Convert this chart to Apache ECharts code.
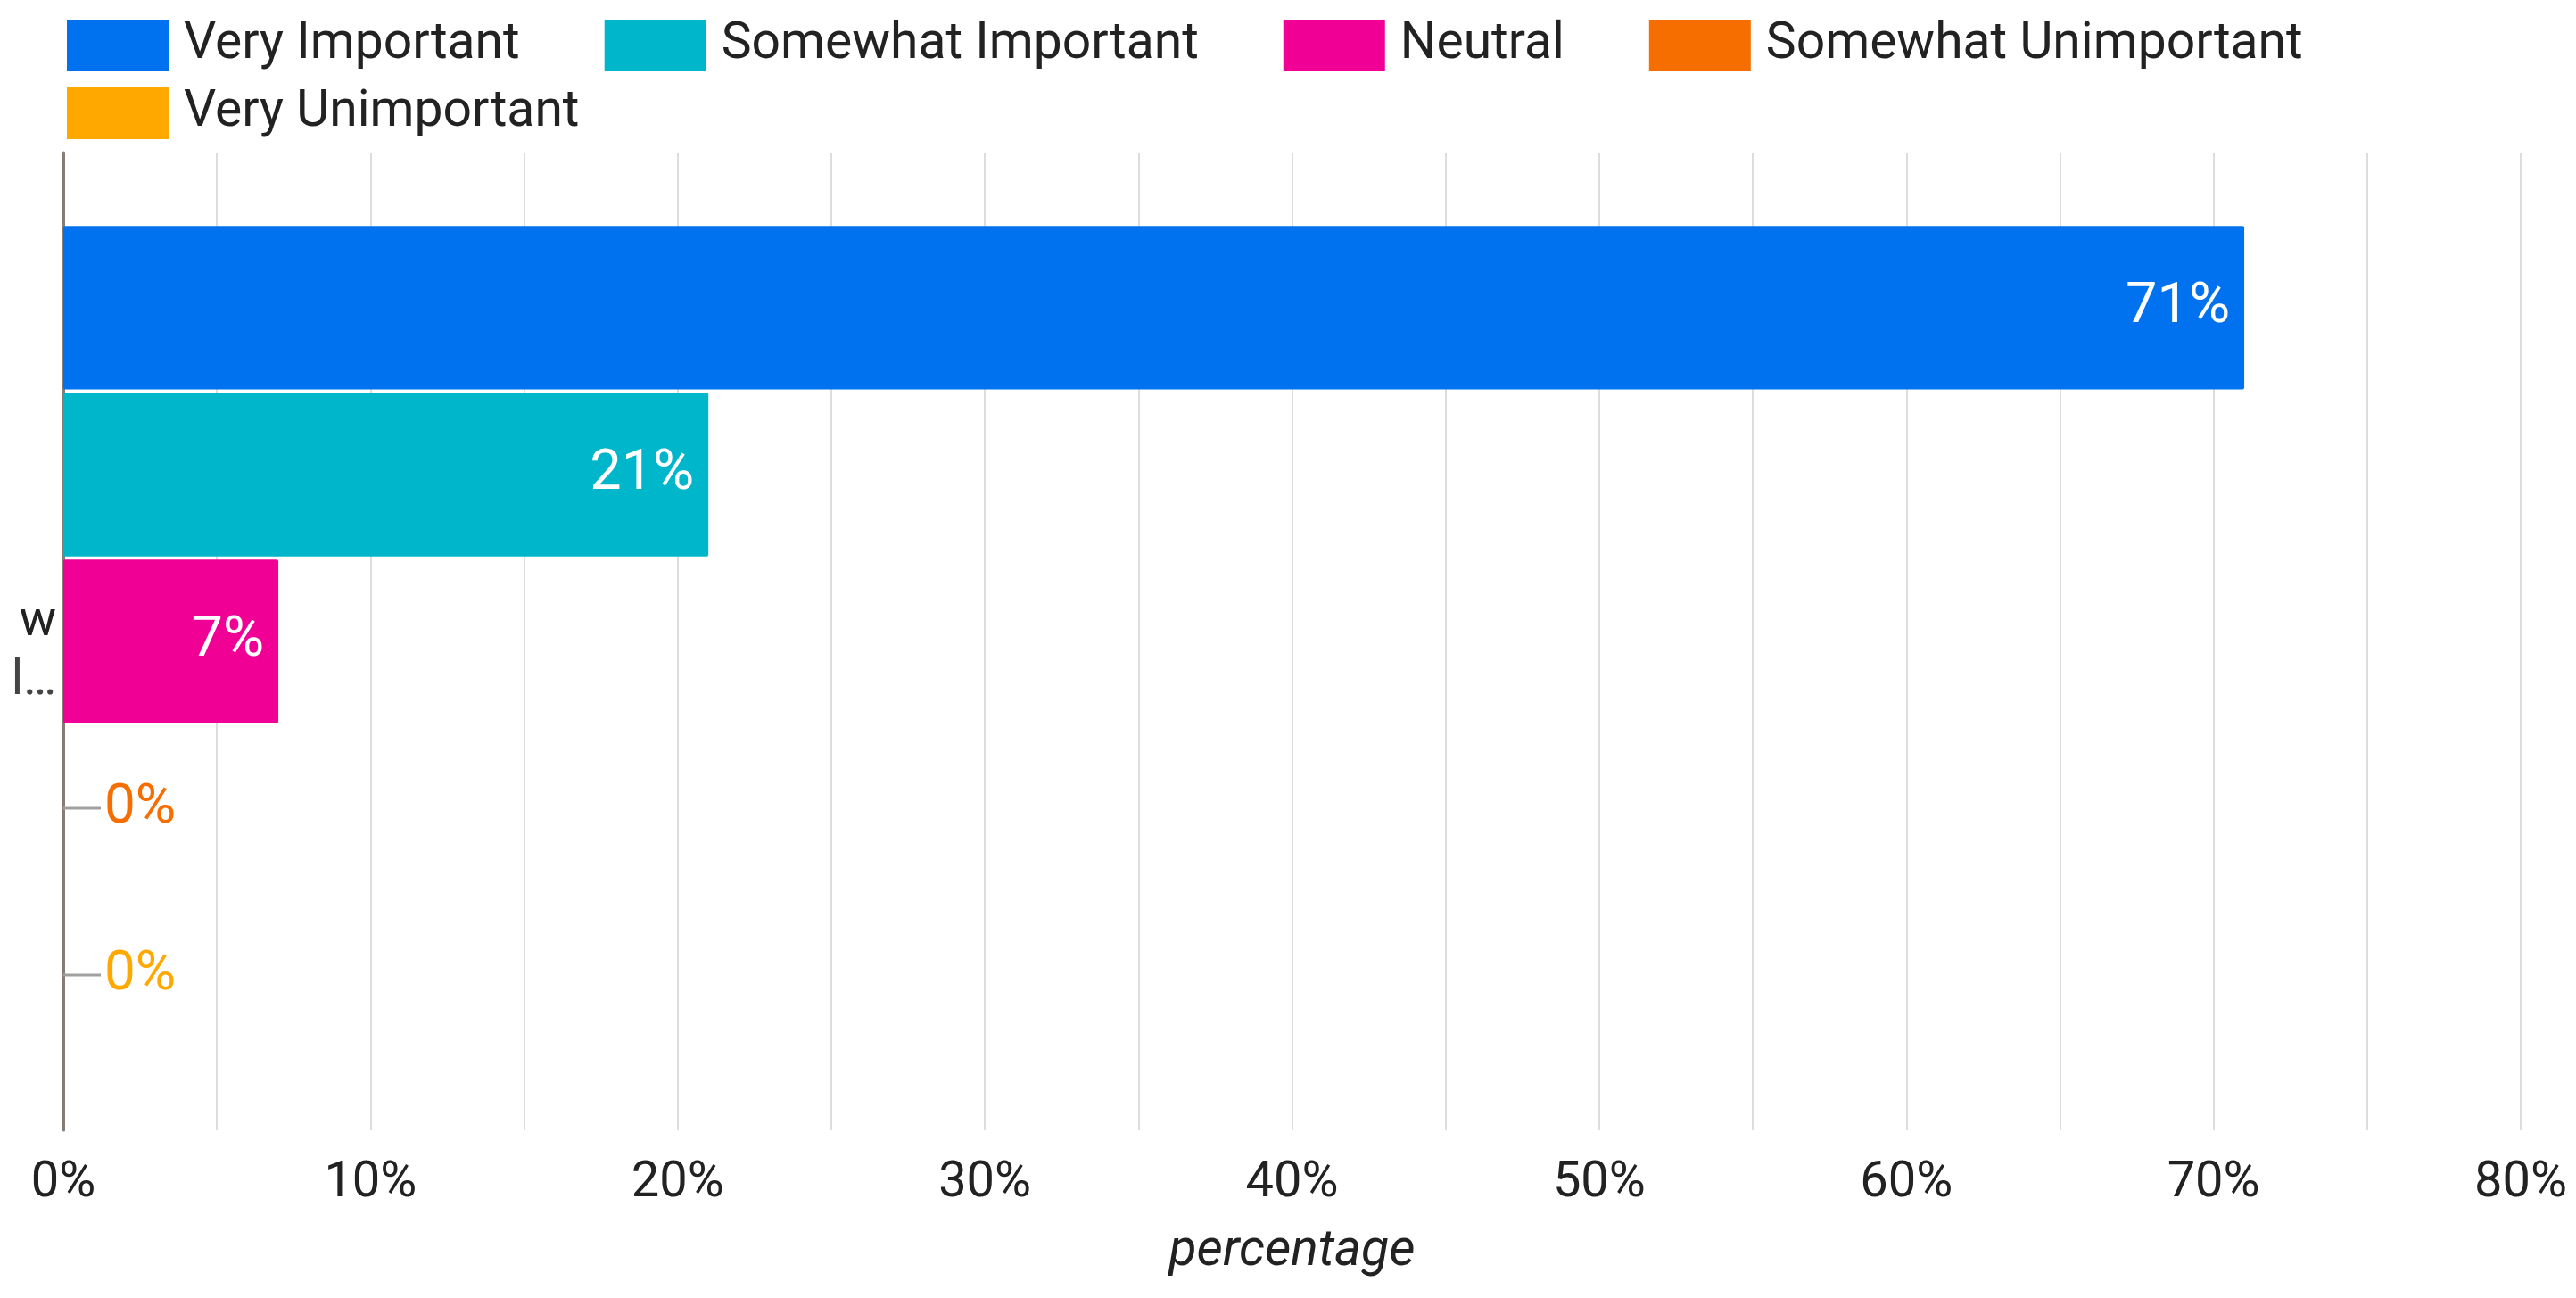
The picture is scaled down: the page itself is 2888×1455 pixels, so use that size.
<!DOCTYPE html>
<html>
<head>
<meta charset="utf-8">
<style>
  html, body { margin: 0; padding: 0; background: #ffffff; }
  #chart { width: 2888px; height: 1455px; }
</style>
<script src="https://cdn.jsdelivr.net/npm/echarts@6/dist/echarts.min.js"></script>
</head>
<body>
<div id="chart"></div>
<script>
// ---- data ----
const categories = ['w\nl\u2026'];
const seriesNames = ['Very Important', 'Somewhat Important', 'Neutral', 'Somewhat Unimportant', 'Very Unimportant'];
const veryImportant = [71];
const somewhatImportant = [21];
const neutral = [7];
const somewhatUnimportant = [0];
const veryUnimportant = [0];
const xTicks = [0, 10, 20, 30, 40, 50, 60, 70, 80];
const colors = ['#0072f0', '#00b6cb', '#f10096', '#f66d00', '#ffa800'];

const values = [veryImportant, somewhatImportant, neutral, somewhatUnimportant, veryUnimportant];
const FONT = 'Roboto';

function makeSeries(i) {
  const isZero = values[i].every(v => v === 0);
  const label = isZero ? {
    show: true,
    position: 'right',
    distance: 0,
    formatter: '{ln|}{v|{c}%}',
    rich: {
      ln: { width: 42, height: 3, backgroundColor: '#a0a0a0' },
      v: { fontSize: 62, fontFamily: FONT, color: colors[i], padding: [0, 0, 0, 4] }
    }
  } : {
    show: true,
    position: 'insideRight',
    distance: 16,
    formatter: '{c}%',
    fontSize: 63,
    fontFamily: FONT,
    color: '#ffffff'
  };
  return {
    name: seriesNames[i],
    type: 'bar',
    data: values[i],
    barGap: '2%',
    barCategoryGap: '15%',
    itemStyle: { color: colors[i], borderRadius: 2 },
    label: label,
    emphasis: { disabled: true }
  };
}

const chart = echarts.init(document.getElementById('chart'), null, { renderer: 'canvas' });
const legendCommon = {
  orient: 'horizontal',
  left: 70,
  icon: 'rect',
  itemWidth: 114,
  itemHeight: 58,
  itemGap: 95,
  selectedMode: false,
  textStyle: { fontSize: 57, fontFamily: FONT, color: '#222222', padding: [0, 0, 0, 12] }
};
chart.setOption({
  animation: false,
  color: colors,
  textStyle: { fontFamily: FONT },
  legend: [
    Object.assign({}, legendCommon, { top: 17, data: seriesNames.slice(0, 4) }),
    Object.assign({}, legendCommon, { top: 93, data: seriesNames.slice(4) })
  ],
  grid: { left: 71, right: 62, top: 171, bottom: 188, containLabel: false },
  xAxis: {
    type: 'value',
    min: xTicks[0],
    max: xTicks[xTicks.length - 1],
    interval: 5,
    name: 'percentage',
    nameLocation: 'middle',
    nameGap: 108,
    nameTextStyle: { fontSize: 57, fontStyle: 'italic', fontFamily: FONT, color: '#222222' },
    axisLine: { show: false },
    axisTick: { show: false },
    axisLabel: {
      margin: 32,
      fontSize: 56,
      fontFamily: FONT,
      color: '#222222',
      formatter: function (v) { return xTicks.indexOf(v) >= 0 ? v + '%' : ''; }
    },
    splitLine: { show: true, lineStyle: { color: '#dddddd', width: 2 } }
  },
  yAxis: {
    type: 'category',
    inverse: true,
    data: categories,
    axisLine: { show: true, lineStyle: { color: '#857c75', width: 3 } },
    axisTick: { show: false },
    axisLabel: {
      margin: 8,
      fontFamily: FONT,
      formatter: function (v) {
        const parts = v.split('\n');
        return '{a|' + parts[0] + '}\n{b|' + parts[1] + '}';
      },
      rich: {
        a: { fontSize: 55, lineHeight: 90, verticalAlign: 'bottom', color: '#222222', fontFamily: FONT },
        b: { fontSize: 55, lineHeight: 76, color: '#444444', fontFamily: FONT }
      }
    },
    splitLine: { show: false }
  },
  series: seriesNames.map((_, i) => makeSeries(i))
});
</script>
</body>
</html>
